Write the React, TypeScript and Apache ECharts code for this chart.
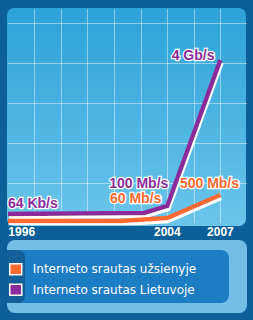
import React, { useEffect, useRef } from "react";
import * as echarts from "echarts";

// Years (x) and relative plotted heights (y, in grid units)
const purpleYears = [1995, 2002.7, 2004, 2007];
const purpleValues = [0.225, 0.25, 0.425, 4.075];
const purpleLabels = ["64 Kb/s", "", "100 Mb/s", "4 Gb/s"];

const orangeYears = [1995, 2001.4, 2004, 2007];
const orangeValues = [0.05, 0.05, 0.125, 0.7];
const orangeLabels = ["", "", "60 Mb/s", "500 Mb/s"];

const xTickLabels = [1996, 2004, 2007];
const seriesNames = ["Interneto srautas užsienyje", "Interneto srautas Lietuvoje"];

const ORANGE = "#ff6a30";
const PURPLE = "#8c2c9c";

const labelBase = {
  show: true,
  position: "inside",
  fontFamily: "Liberation Sans",
  fontWeight: "bold",
  fontSize: 14,
  textBorderColor: "#ffffff",
  textBorderWidth: 2.5,
  verticalAlign: "middle",
};

// label placements (style only)
const purpleLabelPlace = [
  { align: "left", offset: [0, -11] },
  null,
  { align: "right", offset: [1, -23] },
  { align: "right", offset: [-6, -5] },
];
const orangeLabelPlace = [
  null,
  null,
  { align: "right", offset: [-6, -20] },
  { align: "center", offset: [-11, -12] },
];

function buildData(years: number[], values: number[], labels: string[], place: any[], color: string) {
  return years.map((yr, i) => {
    const item: any = { value: [yr, values[i]] };
    if (labels[i]) {
      item.label = { ...labelBase, ...place[i], color, formatter: labels[i] };
    }
    return item;
  });
}

const GRID_LINE = "rgba(255,255,255,0.45)";

export default function App() {
  const ref = useRef<HTMLDivElement>(null);
  useEffect(() => {
    const chart = echarts.init(ref.current!, null, { renderer: "svg" });
    chart.setOption({
      animation: false,
      graphic: [
        { type: "rect", z: -20, silent: true, shape: { x: 0, y: 0, width: 253, height: 320 }, style: { fill: "#0c5f99" } },
        {
          type: "rect", z: -19, silent: true,
          shape: { x: 7, y: 8, width: 239, height: 218, r: 7 },
          style: {
            fill: new echarts.graphic.LinearGradient(0, 0, 0, 1, [
              { offset: 0, color: "#2ba2d9" },
              { offset: 1, color: "#6cc5ea" },
            ]),
          },
        },
        { type: "rect", z: -19, silent: true, shape: { x: 7, y: 240, width: 240, height: 73, r: 8 }, style: { fill: "#72bee4" } },
        { type: "rect", z: -18, silent: true, shape: { x: 7, y: 250, width: 222, height: 53, r: [0, 8, 8, 0] }, style: { fill: "#1c7cc4" } },
        { type: "rect", z: -17, silent: true, shape: { x: 7, y: 250, width: 18, height: 53, r: [0, 7, 7, 0] }, style: { fill: "#135f9a" } },
      ],
      grid: { left: 8, right: 6, top: 9, bottom: 97, containLabel: false },
      xAxis: {
        type: "value",
        min: 1995,
        max: 2008.5,
        interval: 1.5,
        axisLine: { show: false },
        axisTick: { show: false },
        splitLine: { show: true, showMinLine: false, showMaxLine: false, lineStyle: { color: GRID_LINE, width: 1 } },
        axisLabel: {
          customValues: xTickLabels,
          color: "#ffffff",
          fontFamily: "Liberation Sans",
          fontWeight: "bold",
          fontSize: 12,
          margin: 3,
          formatter: (v: number) => (v === xTickLabels[0] ? `{a|${v}}` : `${v}`),
          rich: { a: { color: "#ffffff", fontFamily: "Liberation Sans", fontWeight: "bold", fontSize: 12, padding: [0, 8, 0, 0] } },
        },
      },
      yAxis: {
        type: "value",
        min: 0,
        max: 5.35,
        interval: 1,
        axisLine: { show: false },
        axisTick: { show: false },
        axisLabel: { show: false },
        splitLine: { show: true, showMinLine: false, showMaxLine: false, lineStyle: { color: GRID_LINE, width: 1 } },
      },
      legend: {
        orient: "vertical",
        left: 9,
        top: 263,
        padding: 0,
        itemWidth: 12,
        itemHeight: 11,
        itemGap: 8,
        icon: "rect",
        data: seriesNames,
        itemStyle: { borderColor: "#ffffff", borderWidth: 1.5 },
        textStyle: { color: "#ffffff", fontFamily: "DejaVu Sans", fontSize: 12, lineHeight: 12, padding: [0, 0, 0, 6] },
      },
      series: [
        {
          name: seriesNames[0],
          type: "line",
          z: 3,
          symbol: "circle",
          symbolSize: 0.1,
          itemStyle: { color: ORANGE },
          lineStyle: { color: ORANGE, width: 4.5, shadowColor: "#ffffff", shadowBlur: 0, shadowOffsetX: 0.5, shadowOffsetY: 3, cap: "butt", join: "miter" },
          data: buildData(orangeYears, orangeValues, orangeLabels, orangeLabelPlace, ORANGE),
        },
        {
          name: seriesNames[1],
          type: "line",
          z: 2,
          symbol: "circle",
          symbolSize: 0.1,
          itemStyle: { color: PURPLE },
          lineStyle: { color: PURPLE, width: 4.5, shadowColor: "#ffffff", shadowBlur: 0, shadowOffsetX: 1, shadowOffsetY: 3, cap: "butt", join: "miter" },
          data: buildData(purpleYears, purpleValues, purpleLabels, purpleLabelPlace, PURPLE),
        },
      ],
    });
    return () => chart.dispose();
  }, []);
  return (
    <div
      ref={ref}
      style={{ position: "fixed", left: 0, top: 0, width: 253, height: 320, background: "#0c5f99" }}
    />
  );
}
